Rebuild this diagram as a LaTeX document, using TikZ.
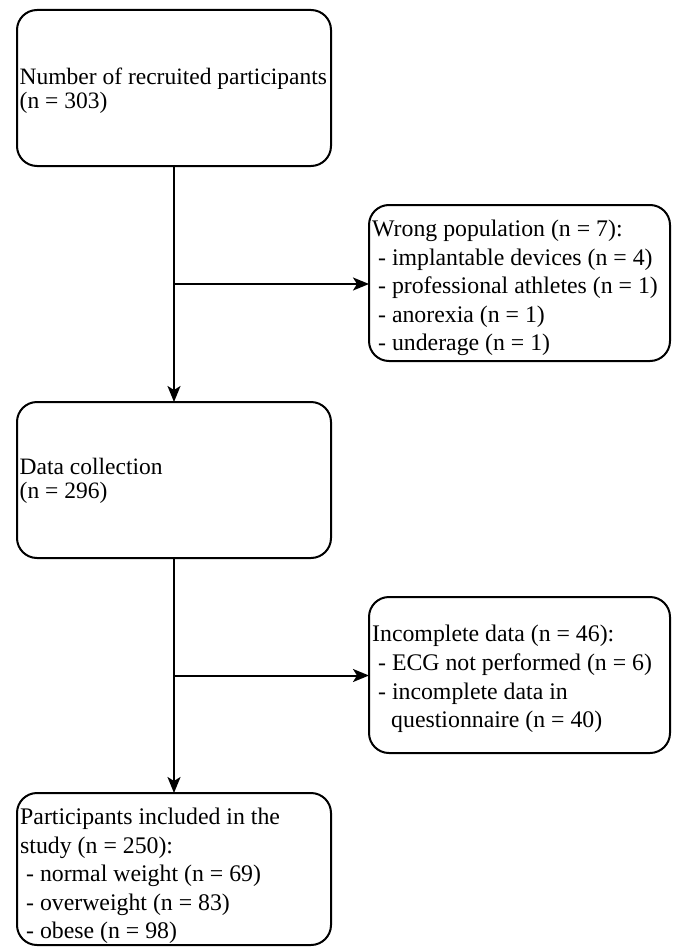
\documentclass[tikz,border=0pt]{standalone}
\usepackage{fontspec}
\setmainfont{Liberation Serif}
\usetikzlibrary{arrows.meta,calc}
\newcommand\lsp{\hspace*{0.25em}}
\begin{document}
\begin{tikzpicture}[x=1pt,y=-1pt,
  box/.style={draw=black, line width=2pt, rounded corners=20pt, anchor=north west, outer sep=0pt, inner sep=0pt},
  txt/.style={anchor=west, inner sep=0pt, align=left},
  tight/.style={font=\fontsize{23.5pt}{24pt}\selectfont},
  loose/.style={font=\fontsize{23.8pt}{28.6pt}\selectfont},
  conn/.style={line width=2pt, -{Stealth[length=16pt,width=13pt,inset=4pt]}}]
\useasboundingbox (0,0) rectangle (672,947);
\node[box,minimum width=314pt,minimum height=156pt] (b1) at (17,10) {};
\node[box,minimum width=301pt,minimum height=156pt] (b2) at (369,205) {};
\node[box,minimum width=314pt,minimum height=156pt] (b3) at (17,402) {};
\node[box,minimum width=301pt,minimum height=156pt] (b4) at (369,597) {};
\node[box,minimum width=314pt,minimum height=152pt] (b5) at (17,793) {};
\node[txt,tight] (t1) at ([xshift=2.5pt,yshift=-3pt]b1.west)
  {Number of recruited participants\\(n = 303)};
\node[txt,loose] (t2) at ([xshift=3pt,yshift=-5pt]b2.west)
  {Wrong population (n = 7):\\\lsp- implantable devices (n = 4)\\\lsp- professional athletes (n = 1)\\\lsp- anorexia (n = 1)\\\lsp- underage (n = 1)};
\node[txt,tight] (t3) at ([xshift=2.5pt,yshift=-1pt]b3.west)
  {Data collection\\(n = 296)};
\node[txt,loose] (t4) at ([xshift=3pt,yshift=-4pt]b4.west)
  {Incomplete data (n = 46):\\\lsp- ECG not performed (n = 6)\\\lsp- incomplete data in\\\hspace*{0.8em}questionnaire (n = 40)};
\node[txt,loose] (t5) at ([xshift=3pt,yshift=-7pt]b5.west)
  {Participants included in the\\study (n = 250):\\\lsp- normal weight (n = 69)\\\lsp- overweight (n = 83)\\\lsp- obese (n = 98)};
\coordinate (m1) at ($(b1.south)!0.5!(b3.north)$);
\coordinate (m2) at ($(b3.south)!0.5!(b5.north)$);
\draw[conn] (b1.south) -- (b3.north);
\draw[conn] (m1) -- (m1 -| b2.west);
\draw[conn] (b3.south) -- (b5.north);
\draw[conn] (m2) -- (m2 -| b4.west);
\end{tikzpicture}
\end{document}
